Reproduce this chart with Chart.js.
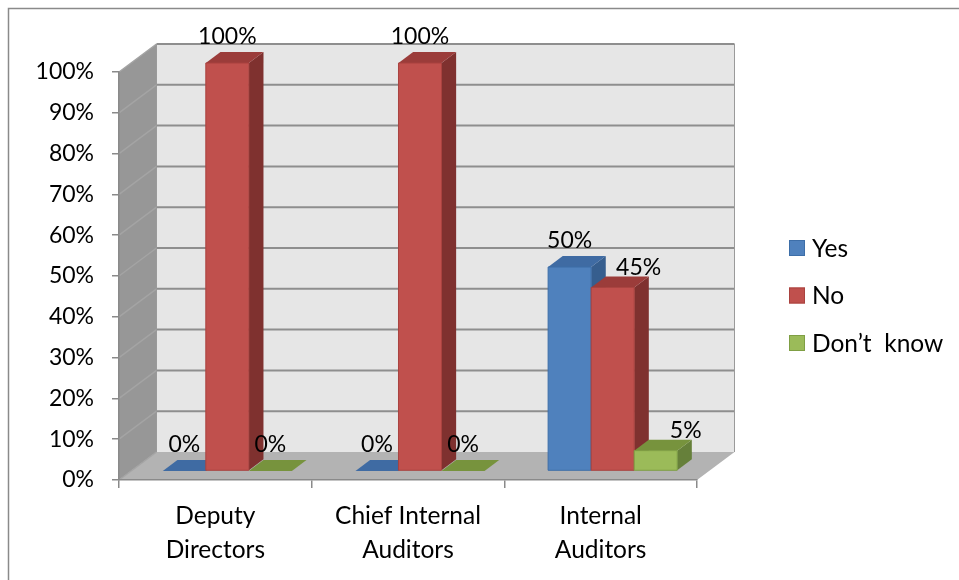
<!DOCTYPE html>
<html>
<head>
<meta charset="utf-8">
<title>Responses by group</title>
<script src="https://cdn.jsdelivr.net/npm/chart.js@4.4.0/dist/chart.umd.min.js"></script>
<style>
  body { margin: 0; background: #fff; }
  #chart { display: block; }
</style>
</head>
<body>
<canvas id="chart" width="959" height="580"></canvas>
<script>
// groups and answers (percent of respondents)
const categories = [["Deputy", "Directors"], ["Chief Internal", "Auditors"], ["Internal", "Auditors"]];
const seriesNames = ["Yes", "No", "Don\u2019t  know"];
const yesValues = [0, 0, 50];
const noValues = [100, 100, 45];
const dontKnowValues = [0, 0, 5];
const yMin = 0, yMax = 100, yStep = 10;

const FONT = "Lato";
const NUM_SIZE = 23;   // percentages
const TEXT_SIZE = 24.5; // words

// colours for each series: front face, top face, side face, edge
const faces = [
    { front: "#4f81bd", top: "#3f6ba3", side: "#365e8e", edge: "#3d6ea8" },
    { front: "#c0504d", top: "#9b3c3a", side: "#7f312f", edge: "#a9423f" },
    { front: "#9bbb59", top: "#77933d", side: "#66803a", edge: "#7f9f44" },
];

// depth of the floor / walls and where the columns sit in it
const DX = 37.5, DY = -28;
const BAR_FRONT = 0.32, BAR_BACK = 0.71;

// a couple of labels are pushed aside so they don't collide
const labelNudge = { "1:2": [26, 7], "2:2": [30, 7] };

function poly(ctx, pts, fill, stroke, lw) {
    ctx.beginPath();
    ctx.moveTo(pts[0][0], pts[0][1]);
    for (let i = 1; i < pts.length; i++) ctx.lineTo(pts[i][0], pts[i][1]);
    ctx.closePath();
    if (fill) { ctx.fillStyle = fill; ctx.fill(); }
    if (stroke) { ctx.strokeStyle = stroke; ctx.lineWidth = lw || 1; ctx.stroke(); }
}

const box3d = {
    id: "box3d",
    beforeDraw(chart) {
        const { ctx, chartArea: a, scales: { y } } = chart;
        ctx.save();
        // frame (top and left edges only)
        ctx.strokeStyle = "#8a8a8a";
        ctx.lineWidth = 1.5;
        ctx.beginPath();
        ctx.moveTo(959, 8.5);
        ctx.lineTo(8.5, 8.5);
        ctx.lineTo(8.5, 580);
        ctx.stroke();

        // side wall, back wall, floor
        poly(ctx, [[a.left, a.top], [a.left + DX, a.top + DY], [a.left + DX, a.bottom + DY], [a.left, a.bottom]], "#979797");
        poly(ctx, [[a.left + DX, a.top + DY], [a.right + DX, a.top + DY], [a.right + DX, a.bottom + DY], [a.left + DX, a.bottom + DY]], "#e6e6e6");
        poly(ctx, [[a.left, a.bottom], [a.right, a.bottom], [a.right + DX, a.bottom + DY], [a.left + DX, a.bottom + DY]], "#b3b3b3");

        // gridlines on the walls
        y.ticks.forEach(t => {
            const py = y.getPixelForValue(t.value);
            if (t.value > yMin) {
                ctx.strokeStyle = "#8e8e8e";
                ctx.lineWidth = 2;
                ctx.beginPath();
                ctx.moveTo(a.left + DX, py + DY);
                ctx.lineTo(a.right + DX, py + DY);
                ctx.stroke();
            }
            ctx.strokeStyle = "#a4a4a4";
            ctx.lineWidth = 1.5;
            ctx.beginPath();
            ctx.moveTo(a.left, py);
            ctx.lineTo(a.left + DX, py + DY);
            ctx.stroke();
        });
        ctx.strokeStyle = "#9a9a9a";
        ctx.lineWidth = 1;
        ctx.beginPath();
        ctx.moveTo(a.right + DX, a.top + DY);
        ctx.lineTo(a.right + DX, a.bottom + DY);
        ctx.moveTo(a.left + DX, a.top + DY);
        ctx.lineTo(a.left + DX, a.bottom + DY);
        ctx.stroke();
        ctx.restore();
    },
    beforeDatasetDraw() {
        return false; // columns are drawn as prisms below
    },
    afterDatasetsDraw(chart) {
        const { ctx } = chart;
        const ox = DX * BAR_FRONT, oy = DY * BAR_FRONT;
        const dx = DX * (BAR_BACK - BAR_FRONT), dy = DY * (BAR_BACK - BAR_FRONT);
        ctx.save();
        chart.data.datasets.forEach((ds, i) => {
            const c = faces[i];
            chart.getDatasetMeta(i).data.forEach((el, j) => {
                const x0 = el.x - el.width / 2 + ox, x1 = el.x + el.width / 2 + ox;
                const yt = el.y + oy, yb = el.base + oy;
                poly(ctx, [[x1, yt], [x1 + dx, yt + dy], [x1 + dx, yb + dy], [x1, yb]], c.side);
                poly(ctx, [[x0, yt], [x1, yt], [x1 + dx, yt + dy], [x0 + dx, yt + dy]], c.top);
                if (yb - yt > 0.5) {
                    poly(ctx, [[x0, yt], [x1, yt], [x1, yb], [x0, yb]], c.front, c.edge, 1);
                }
            });
        });

        // value labels
        ctx.fillStyle = "#000";
        ctx.font = NUM_SIZE + "px " + FONT;
        ctx.textAlign = "center";
        ctx.textBaseline = "middle";
        chart.data.datasets.forEach((ds, i) => {
            chart.getDatasetMeta(i).data.forEach((el, j) => {
                const n = labelNudge[i + ":" + j] || [0, 0];
                ctx.fillText(ds.data[j] + "%", el.x + ox + n[0], el.y + oy + dy - 16 + n[1]);
            });
        });

        // legend
        ctx.textAlign = "left";
        ctx.font = TEXT_SIZE + "px " + FONT;
        chart.data.datasets.forEach((ds, i) => {
            const cy = 248 + i * 47.5;
            ctx.fillStyle = faces[i].front;
            ctx.fillRect(789, cy - 8, 16, 16);
            ctx.strokeStyle = faces[i].edge;
            ctx.lineWidth = 1;
            ctx.strokeRect(789.5, cy - 7.5, 15, 15);
            ctx.fillStyle = "#000";
            ctx.fillText(ds.label, 812, cy + 1);
        });
        ctx.restore();
    },
};

new Chart(document.getElementById("chart"), {
    type: "bar",
    data: {
        labels: categories,
        datasets: [
            { label: seriesNames[0], data: yesValues, backgroundColor: faces[0].front },
            { label: seriesNames[1], data: noValues, backgroundColor: faces[1].front },
            { label: seriesNames[2], data: dontKnowValues, backgroundColor: faces[2].front },
        ],
    },
    options: {
        responsive: false,
        animation: false,
        layout: { padding: { top: 72, right: 262, bottom: 0, left: 0 } },
        datasets: { bar: { categoryPercentage: 0.67, barPercentage: 1 } },
        scales: {
            x: {
                grid: { drawOnChartArea: false, tickLength: 8, color: "#8a8a8a", lineWidth: 1.5 },
                border: { color: "#8a8a8a", width: 1.5 },
                ticks: { color: "#000", font: { family: FONT, size: TEXT_SIZE, lineHeight: 1.35 }, padding: 12, maxRotation: 0 },
                afterFit: s => { s.height = 100; },
            },
            y: {
                min: yMin,
                max: yMax,
                grid: { drawOnChartArea: false, tickLength: 7, color: "#8a8a8a", lineWidth: 1.5 },
                border: { color: "#8a8a8a", width: 1.5 },
                ticks: { stepSize: yStep, color: "#000", font: { family: FONT, size: NUM_SIZE }, padding: 18, callback: v => v + "%" },
                afterFit: s => { s.width = 119; },
            },
        },
        plugins: {
            legend: { display: false },
            tooltip: { enabled: false },
        },
    },
    plugins: [box3d],
});
</script>
</body>
</html>
